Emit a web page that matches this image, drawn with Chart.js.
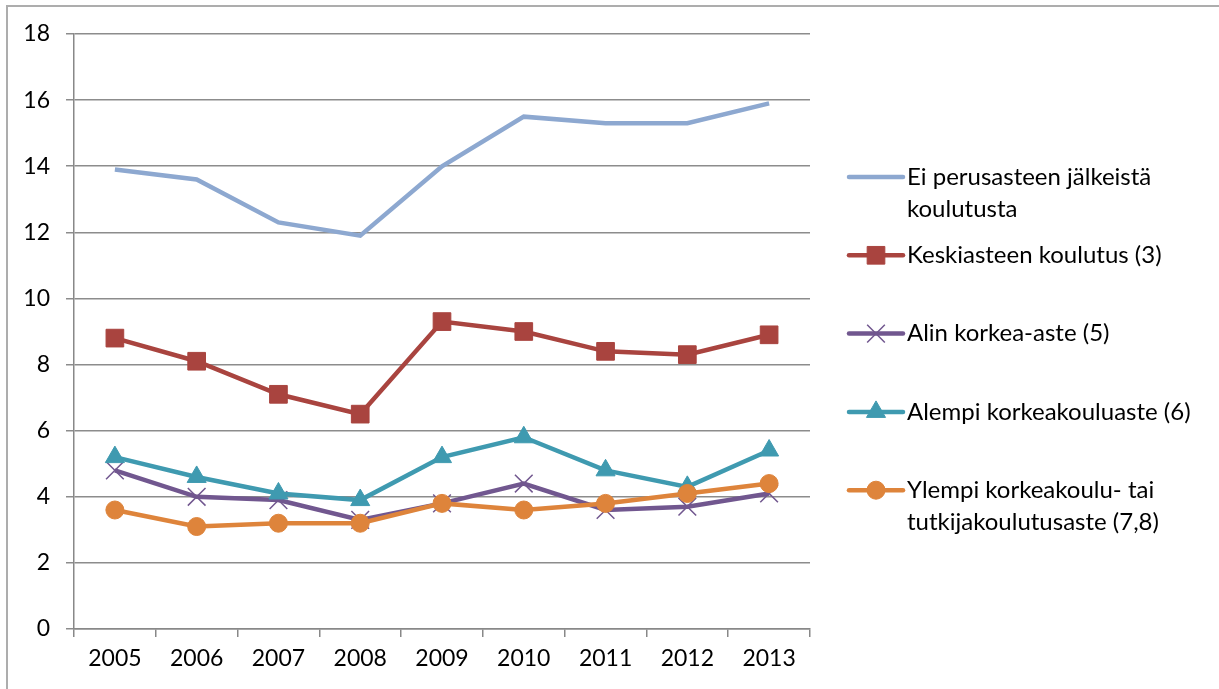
<!DOCTYPE html>
<html>
<head>
<meta charset="utf-8">
<script src="https://cdn.jsdelivr.net/npm/chart.js@4.4.1/dist/chart.umd.min.js"></script>
<style>
  html, body { margin: 0; padding: 0; background: #fff; }
  canvas { display: block; }
</style>
</head>
<body>
<canvas id="chart" width="1219" height="689"></canvas>
<script>
const years = ['2005', '2006', '2007', '2008', '2009', '2010', '2011', '2012', '2013'];

const eiPerusasteen = [13.9, 13.6, 12.3, 11.9, 14.0, 15.5, 15.3, 15.3, 15.9];
const keskiaste = [8.8, 8.1, 7.1, 6.5, 9.3, 9.0, 8.4, 8.3, 8.9];
const alinKorkea = [4.8, 4.0, 3.9, 3.3, 3.8, 4.4, 3.6, 3.7, 4.1];
const alempiKorkeakoulu = [5.2, 4.6, 4.1, 3.9, 5.2, 5.8, 4.8, 4.3, 5.4];
const ylempiKorkeakoulu = [3.6, 3.1, 3.2, 3.2, 3.8, 3.6, 3.8, 4.1, 4.4];

const seriesNames = [
    ['Ei perusasteen jälkeistä', 'koulutusta'],
    ['Keskiasteen koulutus (3)'],
    ['Alin korkea-aste (5)'],
    ['Alempi korkeakouluaste (6)'],
    ['Ylempi korkeakoulu- tai', 'tutkijakoulutusaste (7,8)']
];

const FONT = 'Lato, "Open Sans", sans-serif';

function makeSet(label, data, color, style, radius, bw, order) {
    return {
        label: label,
        data: data,
        order: order,
        borderColor: color,
        backgroundColor: color,
        borderWidth: 4.5,
        tension: 0,
        pointStyle: style,
        pointRadius: style ? radius : 0,
        pointBackgroundColor: color,
        pointBorderColor: color,
        pointBorderWidth: bw,
        pointHoverRadius: radius
    };
}

// white background, the thin frame at top and left, and the legend on the right
const extras = {
    id: 'extras',
    beforeDraw(chart) {
        const c = chart.ctx;
        c.save();
        c.fillStyle = '#fff';
        c.fillRect(0, 0, chart.width, chart.height);
        c.strokeStyle = '#adadad';
        c.lineWidth = 2;
        c.beginPath();
        c.moveTo(7, chart.height);
        c.lineTo(7, 6);
        c.lineTo(chart.width, 6);
        c.stroke();
        c.restore();
    },
    afterDraw(chart) {
        const c = chart.ctx;
        const lineX1 = 849, lineX2 = 903, textX = 907;
        let y = 177;
        c.save();
        chart.data.datasets.forEach((ds, i) => {
            c.strokeStyle = ds.borderColor;
            c.lineWidth = 4.5;
            c.lineCap = 'round';
            c.beginPath();
            c.moveTo(lineX1, y);
            c.lineTo(lineX2, y);
            c.stroke();
            if (ds.pointStyle) {
                c.fillStyle = ds.pointBackgroundColor;
                c.strokeStyle = ds.pointBorderColor;
                c.lineWidth = ds.pointBorderWidth;
                c.lineCap = 'butt';
                Chart.helpers.drawPoint(c, {
                    pointStyle: ds.pointStyle,
                    radius: ds.pointRadius,
                    rotation: 0,
                    borderWidth: ds.pointBorderWidth
                }, (lineX1 + lineX2) / 2, y);
            }
            c.fillStyle = '#000';
            c.font = '24px ' + FONT;
            c.textBaseline = 'middle';
            c.textAlign = 'left';
            seriesNames[i].forEach((t, k) => c.fillText(t, textX, y + k * 32));
            y += 78.3;
        });
        c.restore();
    }
};

new Chart(document.getElementById('chart'), {
    type: 'line',
    data: {
        labels: years,
        datasets: [
            makeSet(seriesNames[0].join(' '), eiPerusasteen, '#8da8d0', false, 0, 0, 4),
            makeSet(seriesNames[1].join(' '), keskiaste, '#a9443f', 'rect', 12.5, 1, 3),
            makeSet(seriesNames[2].join(' '), alinKorkea, '#71578f', 'crossRot', 12.5, 1.5, 2),
            makeSet(seriesNames[3].join(' '), alempiKorkeakoulu, '#3f9ab0', 'triangle', 11, 1, 1),
            makeSet(seriesNames[4].join(' '), ylempiKorkeakoulu, '#de843b', 'circle', 9, 1, 0)
        ]
    },
    options: {
        responsive: false,
        animation: false,
        layout: { padding: { left: 8, top: 34, right: 409, bottom: 0 } },
        plugins: {
            legend: { display: false },
            tooltip: { enabled: false }
        },
        scales: {
            x: {
                offset: true,
                afterFit(scale) { scale.height = 60; },
                grid: {
                    offset: true,
                    drawOnChartArea: false,
                    tickLength: 8,
                    color: '#888',
                    lineWidth: 1.5
                },
                border: { color: '#888', width: 1.5 },
                ticks: {
                    color: '#000',
                    padding: 8,
                    maxRotation: 0,
                    font: { family: FONT, size: 23 }
                }
            },
            y: {
                min: 0,
                max: 18,
                afterFit(scale) { scale.width = 66; },
                grid: {
                    color: '#8c8c8c',
                    lineWidth: 1.5,
                    tickLength: 8
                },
                border: { color: '#888', width: 1.5 },
                ticks: {
                    stepSize: 2,
                    color: '#000',
                    padding: 16,
                    font: { family: FONT, size: 23 }
                }
            }
        }
    },
    plugins: [extras]
});
</script>
</body>
</html>
